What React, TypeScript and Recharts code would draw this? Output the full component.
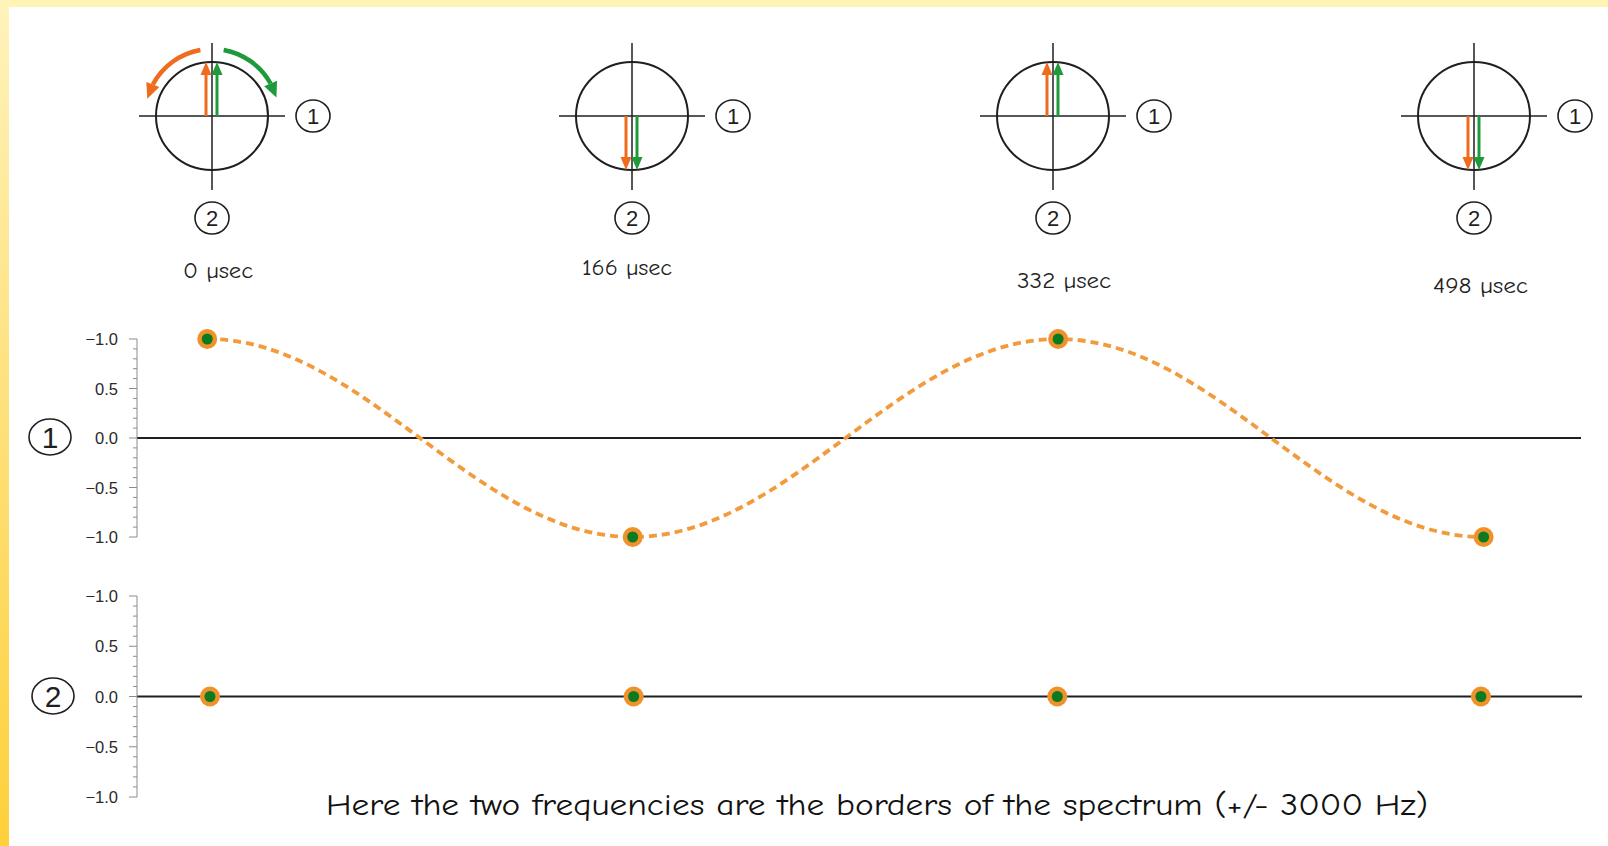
import React from 'react'
import { LineChart, Line, XAxis, YAxis, ReferenceLine } from 'recharts'

// sample instants (µs) and the channel readings at each one
const timesUs = [0, 166, 332, 498]
const timeLabels = ['0 µsec', '166 µsec', '332 µsec', '498 µsec']
const ch1Orange = [1, -1, 1, -1]
const ch1Green = [1, -1, 1, -1]
const ch2Orange = [0, 0, 0, 0]
const ch2Green = [0, 0, 0, 0]

// phasor directions at each instant, degrees counter-clockwise from axis 1
const orangeAngles = [90, -90, 90, -90]
const greenAngles = [90, -90, 90, -90]

const yTicks = [
  -1, -0.9, -0.8, -0.7, -0.6, -0.5, -0.4, -0.3, -0.2, -0.1, 0,
  0.1, 0.2, 0.3, 0.4, 0.5, 0.6, 0.7, 0.8, 0.9, 1,
]
const yMajorTicks = [1, 0.5, 0, -0.5, -1]
const yMajorLabels = ['−1.0', '0.5', '0.0', '−0.5', '−1.0']

const caption = 'Here the two frequencies are the borders of the spectrum (+/- 3000 Hz)'

const ORANGE = '#EF6B1D'
const GREEN = '#1E9A3B'
const DOT_ORANGE = '#F0922C'
const DOT_GREEN = '#0C7A1F'
const CURVE = '#F29B3C'
const INK = '#1f1f1f'
const HAND = "'Comic Sans MS', 'Comic Neue', 'DejaVu Sans', sans-serif"
const SANS = "'Liberation Sans', Arial, Helvetica, sans-serif"

// half-cosine segments between samples: flat tangent at every sample
function halfCosine(context: any) {
  let x0 = NaN
  let y0 = NaN
  let started = false
  return {
    areaStart() {},
    areaEnd() {},
    lineStart() {
      started = false
    },
    lineEnd() {},
    point(x: number, y: number) {
      x = +x
      y = +y
      if (!started) {
        context.moveTo(x, y)
        started = true
      } else {
        const h = x - x0
        context.bezierCurveTo(x0 + h * 0.37, y0, x - h * 0.37, y, x, y)
      }
      x0 = x
      y0 = y
    },
  }
}

function YTick(props: any) {
  const { x, y, payload } = props
  const i = yMajorTicks.findIndex((v) => Math.abs(v - payload.value) < 1e-6)
  const major = i >= 0
  return (
    <g>
      <line x1={x - (major ? 8 : 4)} x2={x} y1={y} y2={y} stroke="#8c8c8c" strokeWidth={1} />
      {major && (
        <text x={x - 19} y={y + 6} textAnchor="end" fontSize={16.5} fill="#2a2a2a" fontFamily={SANS}>
          {yMajorLabels[i]}
        </text>
      )}
    </g>
  )
}

interface PanelProps {
  orange: number[]
  green: number[]
  curve: boolean
  height: number
  domain: [number, number]
  margin: { top: number; right: number; bottom: number; left: number }
}

function Panel({ orange, green, curve, height, domain, margin }: PanelProps) {
  const data = timesUs.map((t, i) => ({ t, orange: orange[i], green: green[i] }))
  return (
    <LineChart width={1608} height={height} data={data} margin={margin}>
      <XAxis type="number" dataKey="t" domain={domain} hide />
      <YAxis
        type="number"
        domain={[-1, 1]}
        ticks={yTicks}
        interval={0}
        tick={YTick}
        tickSize={0}
        tickMargin={0}
        tickLine={false}
        axisLine={{ stroke: '#8c8c8c', strokeWidth: 1 }}
        width={60}
      />
      <ReferenceLine y={0} stroke={INK} strokeWidth={2} />
      <Line
        dataKey="orange"
        type={halfCosine as any}
        stroke={curve ? CURVE : 'none'}
        strokeWidth={3.8}
        strokeDasharray="8 5"
        dot={{ r: 10, fill: DOT_ORANGE, stroke: 'none', strokeDasharray: 'none', clipDot: false } as any}
        activeDot={false}
        isAnimationActive={false}
      />
      <Line
        dataKey="green"
        stroke="none"
        dot={{ r: 5.5, fill: DOT_GREEN, stroke: 'none', clipDot: false } as any}
        activeDot={false}
        isAnimationActive={false}
      />
    </LineChart>
  )
}

function Arrow({ x1, y1, x2, y2, color }: { x1: number; y1: number; x2: number; y2: number; color: string }) {
  const len = Math.hypot(x2 - x1, y2 - y1)
  const ux = (x2 - x1) / len
  const uy = (y2 - y1) / len
  const head = 13
  const half = 5.5
  const bx = x2 - ux * head
  const by = y2 - uy * head
  const pts = `${x2},${y2} ${bx - uy * half},${by + ux * half} ${bx + uy * half},${by - ux * half}`
  return (
    <g>
      <line x1={x1} y1={y1} x2={bx} y2={by} stroke={color} strokeWidth={3} />
      <polygon points={pts} fill={color} />
    </g>
  )
}

// rotation hint drawn around the first phasor
function TurnArrow({ cx, cy, from, to, color }: { cx: number; cy: number; from: number; to: number; color: string }) {
  const R = 67
  const rad = (d: number) => (d * Math.PI) / 180
  const pt = (d: number) => [cx + R * Math.cos(rad(d)), cy - R * Math.sin(rad(d))]
  const dir = to > from ? 1 : -1
  const base = to - dir * 13
  const [sx, sy] = pt(from)
  const [bx, by] = pt(base)
  const [tx, ty] = pt(to)
  const len = Math.hypot(tx - bx, ty - by)
  const ux = (tx - bx) / len
  const uy = (ty - by) / len
  const half = 7
  const sweep = dir > 0 ? 0 : 1
  return (
    <g>
      <path d={`M${sx},${sy} A${R},${R} 0 0 ${sweep} ${bx},${by}`} fill="none" stroke={color} strokeWidth={4.5} />
      <polygon
        points={`${tx},${ty} ${bx - uy * half},${by + ux * half} ${bx + uy * half},${by - ux * half}`}
        fill={color}
      />
    </g>
  )
}

function Circled({ x, y, rx, ry, text, size }: { x: number; y: number; rx: number; ry: number; text: string; size: number }) {
  return (
    <g>
      <ellipse cx={x} cy={y} rx={rx} ry={ry} fill="none" stroke={INK} strokeWidth={1.6} />
      <text x={x} y={y + size * 0.36} textAnchor="middle" fontSize={size} fill={INK} fontFamily={SANS}>
        {text}
      </text>
    </g>
  )
}

const phasorX = [212, 632, 1053, 1474]
const phasorY = 116
const labelPos = [
  { x: 183, y: 278, w: 70 },
  { x: 582, y: 275, w: 90 },
  { x: 1017, y: 288, w: 94 },
  { x: 1433, y: 293, w: 95 },
]

function Phasors() {
  const rx = 56
  const ry = 54
  return (
    <g>
      {phasorX.map((cx, i) => {
        const oa = (orangeAngles[i] * Math.PI) / 180
        const ga = (greenAngles[i] * Math.PI) / 180
        return (
          <g key={i}>
            <line x1={cx - 73} x2={cx + 73} y1={phasorY} y2={phasorY} stroke={INK} strokeWidth={1.5} />
            <line x1={cx} x2={cx} y1={phasorY - 73} y2={phasorY + 74} stroke={INK} strokeWidth={1.5} />
            <ellipse cx={cx} cy={phasorY} rx={rx} ry={ry} fill="none" stroke={INK} strokeWidth={2} />
            <Arrow
              x1={cx - 6}
              y1={phasorY}
              x2={cx - 6 + Math.cos(oa) * rx}
              y2={phasorY - Math.sin(oa) * ry}
              color={ORANGE}
            />
            <Arrow
              x1={cx + 5}
              y1={phasorY}
              x2={cx + 5 + Math.cos(ga) * rx}
              y2={phasorY - Math.sin(ga) * ry}
              color={GREEN}
            />
            <Circled x={cx + 101} y={phasorY} rx={17} ry={16} text="1" size={22} />
            <Circled x={cx} y={218} rx={17} ry={16} text="2" size={22} />
            <text
              x={labelPos[i].x}
              y={labelPos[i].y}
              fontSize={23}
              fill="#222"
              fontFamily={HAND}
              textLength={labelPos[i].w}
              lengthAdjust="spacingAndGlyphs"
            >
              {timeLabels[i]}
            </text>
          </g>
        )
      })}
      <TurnArrow cx={phasorX[0]} cy={phasorY} from={100} to={165} color={ORANGE} />
      <TurnArrow cx={phasorX[0]} cy={phasorY} from={80} to={16} color={GREEN} />
    </g>
  )
}

export default function App() {
  return (
    <div
      style={{
        position: 'absolute',
        left: 0,
        top: 0,
        width: 1608,
        height: 846,
        background: '#fff',
        overflow: 'hidden',
      }}
    >
      <div style={{ position: 'absolute', left: 0, top: 0, width: 1608, height: 7, background: '#FFF3B6' }} />
      <div
        style={{
          position: 'absolute',
          left: 0,
          top: 0,
          width: 9,
          height: 846,
          background: 'linear-gradient(to bottom, #FFF3BC 0%, #FFE486 40%, #FFD03A 100%)',
        }}
      />

      <div style={{ position: 'absolute', left: 0, top: 300 }}>
        <Panel
          orange={ch1Orange}
          green={ch1Green}
          curve
          height={260}
          domain={[-27.4, 536]}
          margin={{ top: 39, right: 27, bottom: 23, left: 77 }}
        />
      </div>
      <div style={{ position: 'absolute', left: 0, top: 560 }}>
        <Panel
          orange={ch2Orange}
          green={ch2Green}
          curve={false}
          height={270}
          domain={[-28.6, 537.6]}
          margin={{ top: 36, right: 26, bottom: 33, left: 77 }}
        />
      </div>

      <svg width={1608} height={846} style={{ position: 'absolute', left: 0, top: 0, pointerEvents: 'none' }}>
        <Phasors />
        <Circled x={50} y={437} rx={21} ry={18} text="1" size={30} />
        <Circled x={53} y={696} rx={21} ry={18} text="2" size={30} />
        <text
          x={326}
          y={815}
          fontSize={30}
          fill="#111"
          fontFamily={HAND}
          textLength={1102}
          lengthAdjust="spacingAndGlyphs"
        >
          {caption}
        </text>
      </svg>
    </div>
  )
}
